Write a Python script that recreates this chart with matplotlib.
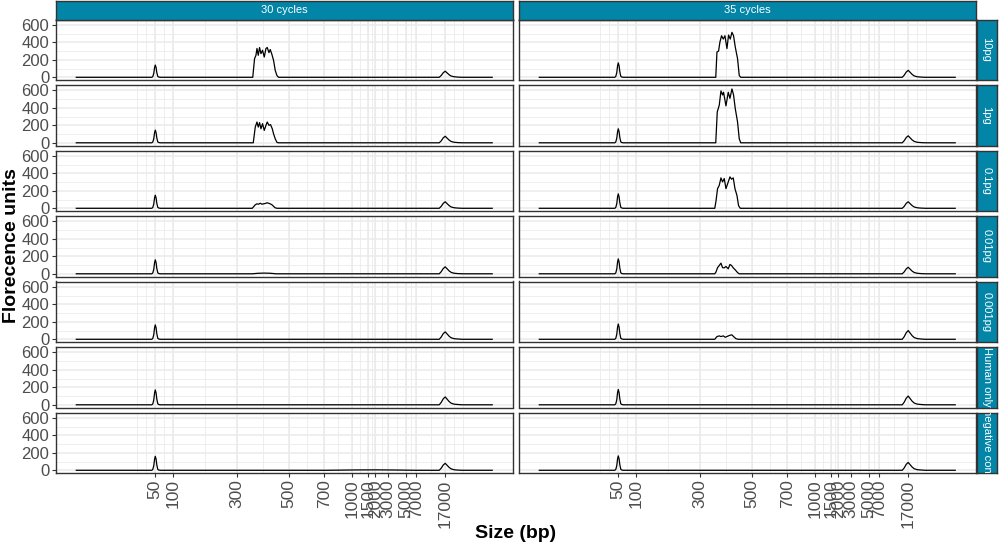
import matplotlib
matplotlib.use("Agg")
import matplotlib.pyplot as plt

plt.rcParams['font.family'] = ['Liberation Sans', 'DejaVu Sans']

# facets
cycles = ["30 cycles", "35 cycles"]
inputs = ["10pg", "1pg", "0.1pg", "0.01pg", "0.001pg", "Human only", "negative control"]

# x axis: migration position with bp labels
size_labels = ["50", "100", "300", "500", "700", "1000", "1500", "2000", "3000", "5000", "7000", "17000"]
size_pos = [79, 97, 161, 213, 248, 276, 292, 299, 312, 330, 340, 369]
run_start, run_end = 0, 416

# lower marker (50 bp)
lower_x = [75.5, 76.5, 77.5, 78.3, 79, 79.8, 80.5, 81.5, 82.5, 84]
lower_30 = [
    [0, 8, 46, 112, 140, 112, 56, 10, 3, 0],
    [0, 9, 48, 116, 145, 116, 58, 10, 3, 0],
    [0, 9, 50, 120, 150, 120, 60, 11, 3, 0],
    [0, 10, 53, 128, 160, 128, 64, 11, 3, 0],
    [0, 10, 54, 132, 165, 132, 66, 12, 3, 0],
    [0, 10, 56, 136, 170, 136, 68, 12, 3, 0],
    [0, 10, 53, 128, 160, 128, 64, 11, 3, 0],
]
lower_35 = [
    [0, 10, 54, 132, 165, 132, 66, 12, 3, 0],
    [0, 10, 53, 128, 160, 128, 64, 11, 3, 0],
    [0, 10, 54, 132, 165, 132, 66, 12, 3, 0],
    [0, 10, 56, 136, 170, 136, 68, 12, 3, 0],
    [0, 11, 58, 140, 175, 140, 70, 12, 4, 0],
    [0, 11, 58, 140, 175, 140, 70, 12, 4, 0],
    [0, 10, 54, 132, 165, 132, 66, 12, 3, 0],
]

# upper marker (17000 bp)
upper_x = [363, 365, 367, 369, 371, 373, 375, 378, 382, 386]
upper_30 = [
    [0, 21, 52, 70, 49, 28, 14, 6, 2, 0],
    [0, 22, 56, 75, 52, 30, 15, 6, 2, 0],
    [0, 22, 56, 75, 52, 30, 15, 6, 2, 0],
    [0, 24, 60, 80, 56, 32, 16, 6, 2, 0],
    [0, 26, 64, 85, 60, 34, 17, 7, 3, 0],
    [0, 27, 68, 90, 63, 36, 18, 7, 3, 0],
    [0, 24, 60, 80, 56, 32, 16, 6, 2, 0],
]
upper_35 = [
    [0, 24, 60, 80, 56, 32, 16, 6, 2, 0],
    [0, 24, 60, 80, 56, 32, 16, 6, 2, 0],
    [0, 22, 56, 75, 52, 30, 15, 6, 2, 0],
    [0, 22, 56, 75, 52, 30, 15, 6, 2, 0],
    [0, 30, 75, 100, 70, 40, 20, 8, 3, 0],
    [0, 30, 75, 100, 70, 40, 20, 8, 3, 0],
    [0, 27, 68, 90, 63, 36, 18, 7, 3, 0],
]

# library peaks
lib_30 = {
    "10pg": ([176.5, 178.3, 179.7, 180.7, 182, 183.3, 184.7, 186.3, 188, 189.7, 191, 192.7, 194, 195.7, 197.3, 199, 200.7, 202.3],
             [0, 213, 252, 330, 252, 341, 271, 310, 232, 330, 341, 283, 318, 260, 194, 78, 20, 0]),
    "1pg": ([177, 179, 180.7, 182, 183.3, 184.7, 186.3, 188, 189.7, 191, 192.7, 194.3, 196, 197.3, 199, 200.7, 202],
            [0, 180, 238, 180, 231, 161, 219, 142, 200, 238, 200, 208, 161, 103, 45, 5, 0]),
    "0.1pg": ([176, 179, 180.7, 182.3, 184, 185.7, 187.3, 189, 190.7, 192.3, 194, 195.7, 197.3, 199, 201],
              [0, 40, 51, 47, 58, 47, 51, 55, 63, 58, 51, 40, 23, 5, 0]),
    "0.01pg": ([176, 182, 188, 194, 200],
               [0, 6, 8, 6, 0]),
    "negative control": ([250, 280, 300, 320, 340],
                         [0, 4, 5, 3, 0]),
}
lib_35 = {
    "10pg": ([176.5, 177.0, 177.7, 179.3, 180.7, 182.3, 184, 185.7, 187.7, 189.3, 191, 192.7, 194.3, 196, 198.3, 200, 201.5],
             [0, 120, 290, 300, 406, 476, 438, 476, 329, 484, 438, 515, 476, 348, 213, 20, 0]),
    "1pg": ([176.5, 178, 180, 181.7, 183.3, 184.3, 186.7, 189, 190.7, 192.7, 194.3, 196, 198.3, 200, 201.5],
            [0, 354, 431, 594, 548, 579, 423, 579, 509, 617, 548, 393, 238, 45, 0]),
    "0.1pg": ([175.5, 176.7, 178.3, 180, 181.7, 183.3, 185, 186.7, 189, 190.7, 192.3, 194, 195.7, 197.7, 199.3, 201],
              [0, 80, 225, 263, 348, 302, 341, 225, 302, 360, 333, 348, 225, 147, 31, 0]),
    "0.01pg": ([175.5, 176.7, 178.3, 180, 181.7, 183.3, 185, 186.7, 189, 190.7, 192.3, 194, 196, 198.3, 200],
               [0, 20, 70, 95, 122, 70, 68, 84, 57, 107, 95, 68, 45, 14, 0]),
    "0.001pg": ([175.5, 177.7, 180, 181.7, 184, 186, 188.3, 190.7, 192.7, 194.3, 196.7, 199],
                [0, 31, 39, 31, 39, 23, 35, 46, 51, 31, 7, 0]),
}

y_breaks = [0, 200, 400, 600]
y_minor = [100, 300, 500]
y_lim = (-31, 662)
x_lim = (run_start - 0.05 * (run_end - run_start), run_end + 0.05 * (run_end - run_start))

strip_col = "#0385A8"
W, H = 1000, 547


def minor_breaks(b, lim):
    # same rule as ggplot: midpoints, one step extended on both sides
    bd = b[1] - b[0]
    bb = list(b)
    if lim[0] < bb[0]:
        bb = [bb[0] - bd] + bb
    if lim[1] > bb[-1]:
        bb = bb + [bb[-1] + bd]
    out = []
    for a, c in zip(bb[:-1], bb[1:]):
        out += [a, (a + c) / 2]
    out.append(bb[-1])
    return [v for v in out if lim[0] <= v <= lim[1]]


def build_trace(lo_y, up_y, lib):
    xs = [run_start] + lower_x
    ys = [0] + lo_y
    if lib is not None:
        xs += lib[0]
        ys += lib[1]
    xs += upper_x + [run_end]
    ys += up_y + [0]
    return xs, ys


def px_axes(fig, x0, y0, w, h):
    return fig.add_axes([x0 / W, 1 - (y0 + h) / H, w / W, h / H])


def strip_axes(fig, x0, y0, w, h):
    sa = px_axes(fig, x0, y0, w, h)
    sa.set_facecolor(strip_col)
    sa.set_xticks([])
    sa.set_yticks([])
    for s in sa.spines.values():
        s.set_color("#333333")
        s.set_linewidth(1.0)
    return sa


fig = plt.figure(figsize=(10, 5.47), dpi=100)

x_minor = minor_breaks(size_pos, x_lim)
col_left = [55.5, 518.5]
panel_w = 457.5
row_top0, row_step, panel_h = 19.5, 65.5, 60.5

for c, cyc in enumerate(cycles):
    lows = lower_30 if c == 0 else lower_35
    ups = upper_30 if c == 0 else upper_35
    libs = lib_30 if c == 0 else lib_35
    for r, inp in enumerate(inputs):
        ax = px_axes(fig, col_left[c], row_top0 + r * row_step, panel_w, panel_h)
        for v in x_minor:
            ax.axvline(v, color="#EBEBEB", lw=0.6, zorder=0)
        for v in y_minor:
            ax.axhline(v, color="#EBEBEB", lw=0.6, zorder=0)
        for v in size_pos:
            ax.axvline(v, color="#EBEBEB", lw=1.1, zorder=0)
        for v in y_breaks:
            ax.axhline(v, color="#EBEBEB", lw=1.1, zorder=0)

        xs, ys = build_trace(lows[r], ups[r], libs.get(inp))
        ax.plot(xs, ys, color="black", lw=0.9, zorder=3)

        ax.set_xlim(x_lim)
        ax.set_ylim(y_lim)
        for s in ax.spines.values():
            s.set_color("#333333")
            s.set_linewidth(1.0)
        ax.tick_params(length=3, width=0.8, color="#333333", labelcolor="#4D4D4D",
                       labelsize=12, pad=1.5)
        ax.set_yticks(y_breaks)
        ax.set_xticks(size_pos)
        if c == 0:
            ax.set_yticklabels([str(v) for v in y_breaks])
        else:
            ax.tick_params(axis="y", length=0, labelleft=False)
        if r == len(inputs) - 1:
            ax.set_xticklabels(size_labels, rotation=90, fontsize=12.5)
        else:
            ax.tick_params(axis="x", length=0, labelbottom=False)

        # right strip
        if c == 1:
            sa = strip_axes(fig, 976.5, row_top0 + r * row_step, 20, panel_h)
            if len(inp) > 12:
                sa.text(0.5, 1.06, inp, rotation=-90, color="white", fontsize=8,
                        ha="center", va="top", transform=sa.transAxes, clip_on=True)
            else:
                sa.text(0.5, 0.5, inp, rotation=-90, color="white", fontsize=8,
                        ha="center", va="center", transform=sa.transAxes, clip_on=True)

    # top strip
    ta = strip_axes(fig, col_left[c], 1, panel_w, 18.5)
    ta.text(0.5, 0.5, cyc, color="white", fontsize=8, ha="center", va="center",
            transform=ta.transAxes, clip_on=True)

fig.text(12 / W, 1 - 246 / H, "Florecence units", rotation=90, fontsize=14,
         fontweight="bold", ha="center", va="center")
fig.text(515.5 / W, 1 - 533 / H, "Size (bp)", fontsize=14, fontweight="bold",
         ha="center", va="center")

fig.savefig("out.png", dpi=100)
